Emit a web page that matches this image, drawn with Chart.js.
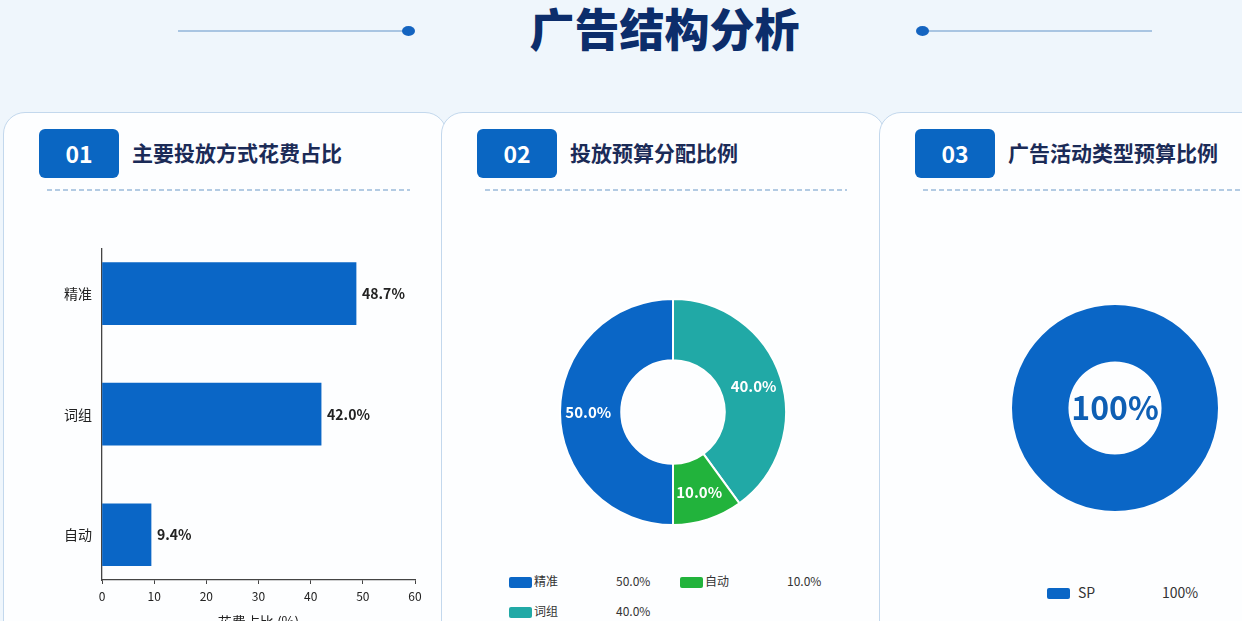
<!DOCTYPE html>
<html lang="zh-CN">
<head>
<meta charset="utf-8">
<title>广告结构分析</title>
<script src="https://cdn.jsdelivr.net/npm/chart.js@4"></script>
<style>
  html, body {
    margin: 0;
    padding: 0;
  }
  body {
    width: 1242px;
    height: 621px;
    overflow: hidden;
    position: relative;
    background: #eff6fc;
    font-family: "Noto Sans CJK SC", "Noto Sans", sans-serif;
  }
  .abs { position: absolute; }
  .main-title {
    left: 0; width: 1329px; top: 0px;
    text-align: center;
    font-size: 45px; font-weight: 900; color: #0c2d6b;
    line-height: 56px; letter-spacing: 0;
  }
  .hline { height: 2px; background: #a9c5e2; top: 30px; }
  .dot { width: 13px; height: 10px; border-radius: 50%; background: #1464c0; top: 26px; }
  .panel {
    top: 112px; width: 442px; height: 540px;
    border: 1.5px solid #c3d8ed; border-radius: 22px;
    background: #fdfeff;
  }
  .badge {
    top: 129px; width: 80px; height: 49px;
    background: #0a66c2; border-radius: 6px;
    color: #fff; font-weight: 700; font-size: 23px;
    text-align: center; line-height: 49px;
  }
  .ptitle {
    top: 136px; font-size: 21px; font-weight: 700; color: #1b2b57;
    line-height: 32px; white-space: nowrap;
  }
  .dash {
    top: 189px; height: 1.5px;
    background: repeating-linear-gradient(to right, #b3cbe3 0 5px, transparent 5px 8px);
  }
  .sw { width: 23px; height: 11px; border-radius: 2px; }
  .lg { font-size: 12px; color: #333; line-height: 16px; white-space: nowrap; }
</style>
</head>
<body>
  <div class="abs main-title">广告结构分析</div>
  <div class="abs hline" style="left:178px;width:230px"></div>
  <div class="abs hline" style="left:922px;width:230px"></div>
  <div class="abs dot" style="left:402px"></div>
  <div class="abs dot" style="left:916px"></div>

  <div class="abs panel" style="left:3px"></div>
  <div class="abs panel" style="left:441px"></div>
  <div class="abs panel" style="left:879px"></div>

  <div class="abs badge" style="left:39px">01</div>
  <div class="abs ptitle" style="left:132px">主要投放方式花费占比</div>
  <div class="abs dash" style="left:47px;width:363px"></div>

  <div class="abs badge" style="left:477px">02</div>
  <div class="abs ptitle" style="left:570px">投放预算分配比例</div>
  <div class="abs dash" style="left:485px;width:362px"></div>

  <div class="abs badge" style="left:915px">03</div>
  <div class="abs ptitle" style="left:1008px">广告活动类型预算比例</div>
  <div class="abs dash" style="left:923px;width:330px"></div>

  <canvas id="barChart" class="abs" width="400" height="400" style="left:40px;top:230px"></canvas>
  <canvas id="budgetChart" class="abs" width="260" height="260" style="left:543px;top:282px"></canvas>
  <canvas id="typeChart" class="abs" width="240" height="240" style="left:995px;top:288px"></canvas>

  <div id="budgetLegend"></div>
  <div id="typeLegend"></div>

<script>
// 数据
const barCategories = ["精准", "词组", "自动"];
const barValues = [48.7, 42.0, 9.4];
const xTickValues = [0, 10, 20, 30, 40, 50, 60];
const xAxisTitle = "花费占比 (%)";

const budgetLabels = ["精准", "自动", "词组"];
const budgetValues = [50.0, 10.0, 40.0];

const typeLabels = ["SP"];
const typeValues = [100];

// 样式
const BLUE = "#0a66c6";
const budgetColors = { "精准": "#0a66c6", "自动": "#22b33c", "词组": "#21a9a6" };
const typeColors = ["#0a66c6"];

Chart.defaults.font.family = "'Noto Sans CJK SC', 'Noto Sans', sans-serif";
Chart.defaults.animation = false;

function pct(values, i, digits) {
  const total = values.reduce((a, b) => a + b, 0);
  return (values[i] / total * 100).toFixed(digits) + "%";
}

// 柱状图右侧数值
const barLabelPlugin = {
  id: "barLabels",
  afterDatasetsDraw(chart) {
    const ctx = chart.ctx;
    const meta = chart.getDatasetMeta(0);
    ctx.save();
    ctx.font = "bold 14px 'Noto Sans CJK SC', sans-serif";
    ctx.fillStyle = "#222";
    ctx.textAlign = "left";
    ctx.textBaseline = "middle";
    meta.data.forEach((el, i) => {
      ctx.fillText(barValues[i].toFixed(1) + "%", el.x + 6, el.y);
    });
    ctx.restore();
  },
};

new Chart(document.getElementById("barChart"), {
  type: "bar",
  data: {
    datasets: [
      {
        data: barValues.map((v, i) => ({ x: v, y: i })),
        backgroundColor: BLUE,
        borderWidth: 0,
        barThickness: 62,
      },
    ],
  },
  options: {
    responsive: false,
    indexAxis: "y",
    layout: { padding: { top: 17, right: 25, left: 0, bottom: 0 } },
    plugins: { legend: { display: false }, tooltip: { enabled: false } },
    scales: {
      x: {
        type: "linear",
        min: 0,
        max: 60,
        afterBuildTicks: (scale) => {
          scale.ticks = xTickValues.map((v) => ({ value: v }));
        },
        afterFit: (scale) => {
          scale.height = 50;
        },
        grid: { display: true, drawOnChartArea: false, drawTicks: true, tickLength: 4, color: "#444" },
        border: { display: true, color: "#444", width: 1.3 },
        ticks: { color: "#222", font: { size: 12 }, padding: 5, maxRotation: 0 },
        title: { display: true, text: xAxisTitle, color: "#222", font: { size: 14 }, padding: 0 },
      },
      y: {
        type: "linear",
        min: -0.375,
        max: 2.375,
        offset: false,
        reverse: true,
        afterBuildTicks: (scale) => {
          scale.ticks = barCategories.map((c, i) => ({ value: i }));
        },
        afterFit: (scale) => {
          scale.width = 62;
        },
        grid: { display: false, drawTicks: false },
        border: { display: true, color: "#444", width: 1.3 },
        ticks: {
          color: "#222",
          font: { size: 14 },
          padding: 10,
          callback: (v) => barCategories[v],
        },
      },
    },
  },
  plugins: [barLabelPlugin],
});

// 环形图内百分比
const arcLabelPlugin = {
  id: "arcLabels",
  afterDatasetsDraw(chart) {
    const ctx = chart.ctx;
    const meta = chart.getDatasetMeta(0);
    const values = chart.data.datasets[0].data;
    ctx.save();
    ctx.font = "bold 15px 'Noto Sans CJK SC', sans-serif";
    ctx.fillStyle = "#fff";
    ctx.textAlign = "center";
    ctx.textBaseline = "middle";
    meta.data.forEach((el, i) => {
      const p = el.getProps(["x", "y", "startAngle", "endAngle", "outerRadius"]);
      const mid = (p.startAngle + p.endAngle) / 2;
      const r = p.outerRadius * 0.75;
      ctx.fillText(pct(values, i, 1), p.x + Math.cos(mid) * r, p.y + Math.sin(mid) * r);
    });
    ctx.restore();
  },
};

// 顺时针从顶部开始：词组、自动、精准
const budgetOrder = budgetLabels.map((l, i) => i).reverse();
new Chart(document.getElementById("budgetChart"), {
  type: "doughnut",
  data: {
    labels: budgetOrder.map((i) => budgetLabels[i]),
    datasets: [
      {
        data: budgetOrder.map((i) => budgetValues[i]),
        backgroundColor: budgetOrder.map((i) => budgetColors[budgetLabels[i]]),
        borderColor: "#fff",
        borderWidth: 2,
        hoverOffset: 0,
      },
    ],
  },
  options: {
    responsive: false,
    radius: 113,
    cutout: "45.8%",
    plugins: { legend: { display: false }, tooltip: { enabled: false } },
  },
  plugins: [arcLabelPlugin],
});

const centerTextPlugin = {
  id: "centerText",
  afterDatasetsDraw(chart) {
    const ctx = chart.ctx;
    const el = chart.getDatasetMeta(0).data[0];
    ctx.save();
    ctx.font = "bold 32px 'Noto Sans CJK SC', sans-serif";
    ctx.fillStyle = "#0e5fb4";
    ctx.textAlign = "center";
    ctx.textBaseline = "middle";
    ctx.fillText(pct(typeValues, 0, 0), el.x, el.y);
    ctx.restore();
  },
};

new Chart(document.getElementById("typeChart"), {
  type: "doughnut",
  data: {
    labels: typeLabels,
    datasets: [
      {
        data: typeValues,
        backgroundColor: typeColors,
        borderWidth: 0,
        hoverOffset: 0,
      },
    ],
  },
  options: {
    responsive: false,
    radius: 103,
    cutout: "45.2%",
    plugins: { legend: { display: false }, tooltip: { enabled: false } },
  },
  plugins: [centerTextPlugin],
});

// 图例
function buildLegend(container, labels, values, colors, opts) {
  let html = "";
  labels.forEach((label, i) => {
    const col = i % opts.cols;
    const row = Math.floor(i / opts.cols);
    const x = opts.left + col * opts.colWidth;
    const y = opts.top + row * opts.rowHeight;
    html += `
      <div class="abs sw" style="left:${x}px;top:${y - 5}px;background:${colors[i]}"></div>
      <div class="abs lg" style="left:${x + opts.textOffset}px;top:${y - 9}px;font-size:${opts.fontSize}px">${label}</div>
      <div class="abs lg" style="left:${x + opts.valueOffset}px;top:${y - 9}px;font-size:${opts.fontSize}px">${opts.format(values, i)}</div>
    `;
  });
  container.innerHTML = html;
}

buildLegend(
  document.getElementById("budgetLegend"),
  budgetLabels,
  budgetValues,
  budgetLabels.map((l) => budgetColors[l]),
  { cols: 2, left: 509, top: 582, colWidth: 171, rowHeight: 30, textOffset: 25, valueOffset: 107, fontSize: 12, format: (v, i) => pct(v, i, 1) }
);

buildLegend(
  document.getElementById("typeLegend"),
  typeLabels,
  typeValues,
  typeColors,
  { cols: 1, left: 1047, top: 593, colWidth: 0, rowHeight: 30, textOffset: 31, valueOffset: 115, fontSize: 14, format: (v, i) => pct(v, i, 0) }
);
</script>
</body>
</html>
